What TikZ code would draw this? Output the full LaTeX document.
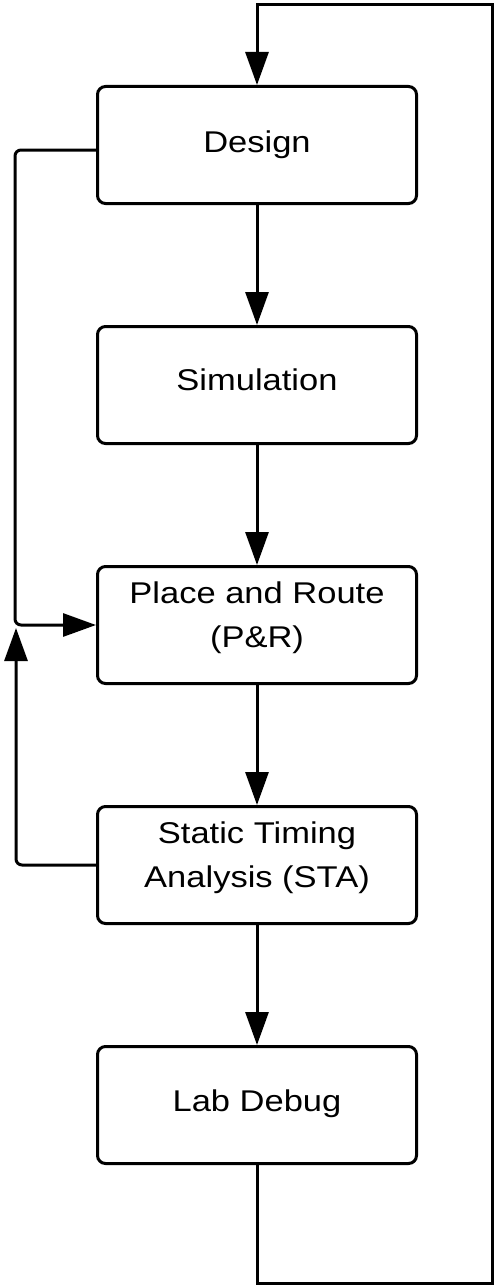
\documentclass[tikz,border=0pt]{standalone}
\usepackage{fontspec}
\usepackage{graphicx}
\setmainfont{Liberation Sans}
\usetikzlibrary{arrows.meta}
\newcommand\boxtext[2]{\scalebox{1.15}[1]{\raisebox{#1}[0pt][0pt]{\begin{tabular}[t]{@{}c@{}}#2\end{tabular}}}}
\begin{document}
\begin{tikzpicture}[x=1pt,y=-1pt,
  box/.style={draw,line width=3pt,rounded corners=8pt,minimum width=319pt,minimum height=117pt,inner sep=0pt,font=\fontsize{30pt}{44pt}\selectfont},
  conn/.style={line width=3pt,-{Triangle[length=33pt,width=23pt]}},
  loopline/.style={line width=3pt}]
\useasboundingbox (0,0) rectangle (498,1287);
\node[box] (design) at (257,145) {\boxtext{-7pt}{Design}};
\node[box] (sim) at (257,385) {\boxtext{-5pt}{Simulation}};
\node[box] (pr) at (257,625) {\boxtext{22pt}{Place and Route\\(P\&R)}};
\node[box] (sta) at (257,865) {\boxtext{22pt}{Static Timing\\Analysis (STA)}};
\node[box] (lab) at (257,1105) {\boxtext{-6pt}{Lab Debug}};
\draw[conn] (design) -- (sim);
\draw[conn] (sim) -- (pr);
\draw[conn] (pr) -- (sta);
\draw[conn] (sta) -- (lab);
\coordinate (l1) at (15,625);
\draw[conn,rounded corners=6pt] ([yshift=-5pt]design.west) -| (l1) -- (pr.west);
\coordinate (l2) at (16,628);
\draw[conn,rounded corners=6pt] (sta.west) -| (l2);
\coordinate (br) at (492,1283);
\coordinate (tr) at (492,5);
\draw[conn] (lab.south) |- (br) -- (tr) -| (design.north);
\end{tikzpicture}
\end{document}
